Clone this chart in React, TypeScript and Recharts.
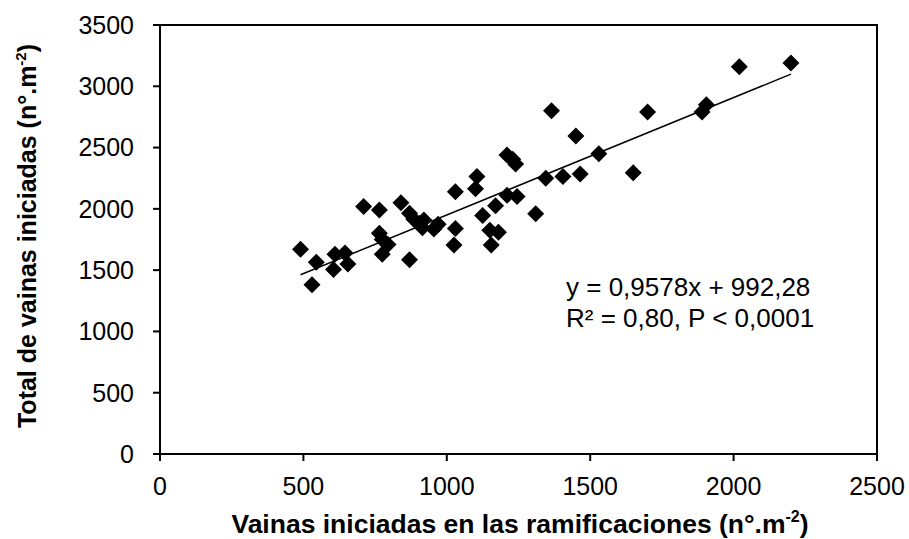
import React from "react";
import {
  Label,
  ReferenceArea,
  ReferenceLine,
  Scatter,
  ScatterChart,
  XAxis,
  YAxis,
} from "recharts";

// vainas iniciadas en las ramificaciones (n°.m-2)
const branchPods = [
  490, 530, 545, 605, 610, 645, 655, 710, 765, 765, 775, 775, 795, 840, 870,
  870, 885, 905, 920, 915, 955, 970, 1030, 1030, 1025, 1105, 1100, 1125, 1150,
  1155, 1170, 1180, 1210, 1210, 1230, 1240, 1245, 1310, 1345, 1365, 1405, 1450,
  1465, 1530, 1650, 1700, 1890, 1905, 2020, 2200,
];
// total de vainas iniciadas (n°.m-2)
const totalPods = [
  1670, 1380, 1565, 1505, 1630, 1640, 1550, 2020, 1990, 1800, 1750, 1630, 1710,
  2050, 1965, 1585, 1915, 1880, 1910, 1845, 1835, 1875, 2140, 1840, 1705, 2265,
  2165, 1945, 1825, 1705, 2025, 1810, 2440, 2110, 2405, 2365, 2100, 1960, 2250,
  2800, 2265, 2595, 2285, 2450, 2295, 2790, 2790, 2850, 3160, 3190,
];
// fitted line ends, y = 0,9578x + 992,28
const trendX = [490, 2200];
const trendY = [1462, 3099];

const xTicks = [0, 500, 1000, 1500, 2000, 2500];
const yTicks = [0, 500, 1000, 1500, 2000, 2500, 3000, 3500];

const points = branchPods.map((x, i) => ({ x, y: totalPods[i] }));

const FONT = '"Liberation Sans", Arial, sans-serif';

const Diamond = (props: any) => {
  const { cx, cy } = props;
  const r = 8.5;
  return (
    <polygon
      points={`${cx},${cy - r} ${cx + r},${cy} ${cx},${cy + r} ${cx - r},${cy}`}
      fill="#000"
    />
  );
};

export default function App() {
  return (
    <div style={{ position: "absolute", left: 0, top: 0, background: "#fff" }}>
      <ScatterChart
        width={909}
        height={539}
        margin={{ top: 25, right: 32, bottom: 0, left: 0 }}
        style={{ fontFamily: FONT }}
      >
        <XAxis
          type="number"
          dataKey="x"
          domain={[0, 2500]}
          ticks={xTicks}
          height={85}
          tickSize={7}
          tickMargin={16}
          axisLine={{ stroke: "#000", strokeWidth: 2 }}
          tickLine={{ stroke: "#000", strokeWidth: 2 }}
          tick={{ fill: "#000", fontSize: 25, fontFamily: FONT }}
        >
          <Label
            content={() => (
              <text
                x={520}
                y={533}
                textAnchor="middle"
                fontSize={26.5}
                fontWeight="bold"
                fontFamily={FONT}
                fill="#000"
              >
                Vainas iniciadas en las ramificaciones (n°.m
                <tspan fontSize={16} dy={-11}>-2</tspan>
                <tspan dy={11}>)</tspan>
              </text>
            )}
          />
        </XAxis>
        <YAxis
          type="number"
          dataKey="y"
          domain={[0, 3500]}
          ticks={yTicks}
          width={160}
          tickSize={7}
          tickMargin={19}
          axisLine={{ stroke: "#000", strokeWidth: 2 }}
          tickLine={{ stroke: "#000", strokeWidth: 2 }}
          tick={{ fill: "#000", fontSize: 25, fontFamily: FONT }}
        >
          <Label
            content={() => (
              <text
                x={36}
                y={236}
                transform="rotate(-90, 36, 236)"
                textAnchor="middle"
                fontSize={25}
                fontWeight="bold"
                fontFamily={FONT}
                fill="#000"
              >
                Total de vainas iniciadas (n°.m
                <tspan fontSize={15} dy={-10}>-2</tspan>
                <tspan dy={10}>)</tspan>
              </text>
            )}
          />
        </YAxis>
        <ReferenceArea
          x1={0}
          x2={2500}
          y1={0}
          y2={3500}
          fill="none"
          stroke="#000"
          strokeWidth={2}
          fillOpacity={0}
          label={(() => (
            <g fontSize={26} fontFamily={FONT} fill="#000">
              <text x={566} y={296}>y = 0,9578x + 992,28</text>
              <text x={566} y={327}>R² = 0,80, P &lt; 0,0001</text>
            </g>
          )) as any}
        />
        <ReferenceLine
          segment={[
            { x: trendX[0], y: trendY[0] },
            { x: trendX[1], y: trendY[1] },
          ]}
          stroke="#000"
          strokeWidth={1.5}
        />
        <Scatter data={points} shape={Diamond} isAnimationActive={false} />
      </ScatterChart>
    </div>
  );
}
